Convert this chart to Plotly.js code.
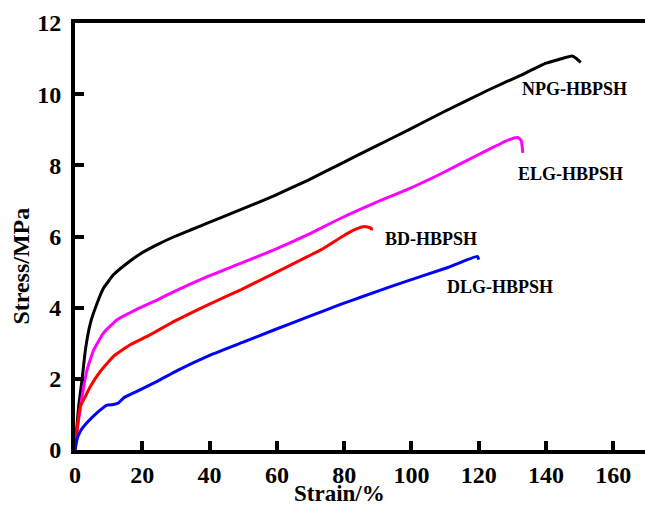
<!DOCTYPE html>
<html>
<head>
<meta charset="utf-8">
<script src="https://cdn.plot.ly/plotly-3.0.1.min.js"></script>
<style>html,body{margin:0;padding:0;background:#fff;}#chart{width:645px;height:507px;}</style>
</head>
<body>
<div id="chart"></div>
<script>
// NPG-HBPSH (black)
const npgStrain = [0, 1.1, 2.1, 3.1, 4.6, 6.6, 8.5, 11.5, 15.5, 19.7, 24.6, 29.6, 34.5, 39.5, 49.4, 59.3, 69.2, 79.1, 89, 99, 109.5, 122.7, 133.6, 139.6, 144, 147.7, 149, 150.3];
const npgStress = [0, 1.23, 1.98, 2.82, 3.57, 4.13, 4.55, 4.93, 5.25, 5.53, 5.78, 6.0, 6.19, 6.38, 6.76, 7.15, 7.58, 8.05, 8.52, 8.99, 9.50, 10.11, 10.58, 10.86, 10.98, 11.07, 11.0, 10.89];
// ELG-HBPSH (magenta)
const elgStrain = [0, 0.8, 2.1, 3.6, 5.6, 8.5, 12.5, 18.5, 24.5, 29.6, 39.5, 49.4, 59.3, 69.2, 79.1, 89, 99, 108.9, 120.7, 128.7, 131.6, 132.6, 133.1];
const elgStress = [0, 0.67, 1.51, 2.26, 2.82, 3.29, 3.66, 3.96, 4.22, 4.46, 4.88, 5.25, 5.63, 6.05, 6.52, 6.94, 7.33, 7.77, 8.34, 8.71, 8.78, 8.70, 8.35];
// BD-HBPSH (red)
const bdStrain = [0, 0.6, 1.6, 3.1, 4.6, 7.6, 11.5, 16.4, 22, 29.6, 39.5, 49.4, 59.3, 69.2, 73.2, 79.1, 83.1, 86.1, 88.1, 88];
const bdStress = [0, 0.58, 1.23, 1.51, 1.79, 2.22, 2.64, 2.96, 3.22, 3.62, 4.08, 4.51, 4.97, 5.44, 5.63, 5.98, 6.19, 6.28, 6.23, 6.17];
// DLG-HBPSH (blue)
const dlgStrain = [0, 0.6, 1.6, 3.6, 6.6, 9.5, 11.5, 13, 14.5, 18.4, 24.4, 30.5, 39.5, 49.4, 59.3, 69.2, 79.1, 85.1, 94, 110.8, 119.6, 120];
const dlgStress = [0, 0.30, 0.53, 0.77, 1.05, 1.26, 1.28, 1.33, 1.47, 1.65, 1.93, 2.24, 2.64, 3.01, 3.38, 3.74, 4.10, 4.30, 4.60, 5.13, 5.44, 5.35];

const seriesNames = ['NPG-HBPSH', 'ELG-HBPSH', 'BD-HBPSH', 'DLG-HBPSH'];
const xTicks = [0, 20, 40, 60, 80, 100, 120, 140, 160];
const yTicks = [0, 2, 4, 6, 8, 10, 12];

const FONT = 'Liberation Serif, Times New Roman, serif';
function tr(x, y, name, color) {
  return {x: x, y: y, name: name, type: 'scatter', mode: 'lines',
          line: {color: color, width: 3, shape: 'spline', smoothing: 0.4}, showlegend: false};
}
const data = [
  tr(npgStrain, npgStress, seriesNames[0], '#000000'),
  tr(elgStrain, elgStress, seriesNames[1], '#ff00ff'),
  tr(bdStrain, bdStress, seriesNames[2], '#ff0000'),
  tr(dlgStrain, dlgStress, seriesNames[3], '#0000ff')
];
const tickFont = {family: FONT, size: 24, color: '#000', weight: 'bold'};
const lblFont = {family: FONT, size: 18, color: '#000', weight: 'bold'};
const layout = {
  width: 645, height: 507,
  margin: {l: 75, r: 0, t: 23, b: 57},
  paper_bgcolor: '#fff', plot_bgcolor: '#fff',
  font: {family: FONT, color: '#000', weight: 'bold'},
  xaxis: {range: [0, 169.4], tickvals: xTicks, ticktext: xTicks.map(v => '<b>' + v + '</b>'),
          showgrid: false, zeroline: false, showline: true, linecolor: '#000', linewidth: 4,
          mirror: true, ticks: 'inside', ticklen: 9, tickwidth: 4, tickcolor: '#000',
          tickfont: tickFont},
  yaxis: {range: [0, 12], tickvals: yTicks, ticktext: yTicks.map(v => '<b>' + v + '</b>'),
          showgrid: false, zeroline: false, showline: true, linecolor: '#000', linewidth: 4,
          mirror: false, ticks: 'inside', ticklen: 9, tickwidth: 4, tickcolor: '#000',
          ticklabelstandoff: 5, tickfont: tickFont},
  annotations: [
    {x: 148.5, y: 10.14, xref: 'x', yref: 'y', text: '<b>' + seriesNames[0] + '</b>', showarrow: false, font: lblFont},
    {x: 147.4, y: 7.77, xref: 'x', yref: 'y', text: '<b>' + seriesNames[1] + '</b>', showarrow: false, font: lblFont},
    {x: 105.7, y: 5.93, xref: 'x', yref: 'y', text: '<b>' + seriesNames[2] + '</b>', showarrow: false, font: lblFont},
    {x: 126.2, y: 4.57, xref: 'x', yref: 'y', text: '<b>' + seriesNames[3] + '</b>', showarrow: false, font: lblFont},
    {x: 0.464, y: -0.103, xref: 'paper', yref: 'paper', text: '<b>Strain/%</b>', showarrow: false,
     xanchor: 'center', yanchor: 'middle', font: {family: FONT, size: 23, color: '#000', weight: 'bold'}},
    {x: -0.095, y: 0.4315, xref: 'paper', yref: 'paper', text: '<b>Stress/MPa</b>', showarrow: false, textangle: -90,
     xanchor: 'center', yanchor: 'middle', font: {family: FONT, size: 24, color: '#000', weight: 'bold'}}
  ]
};
Plotly.newPlot('chart', data, layout, {displayModeBar: false, staticPlot: true});
</script>
</body>
</html>
